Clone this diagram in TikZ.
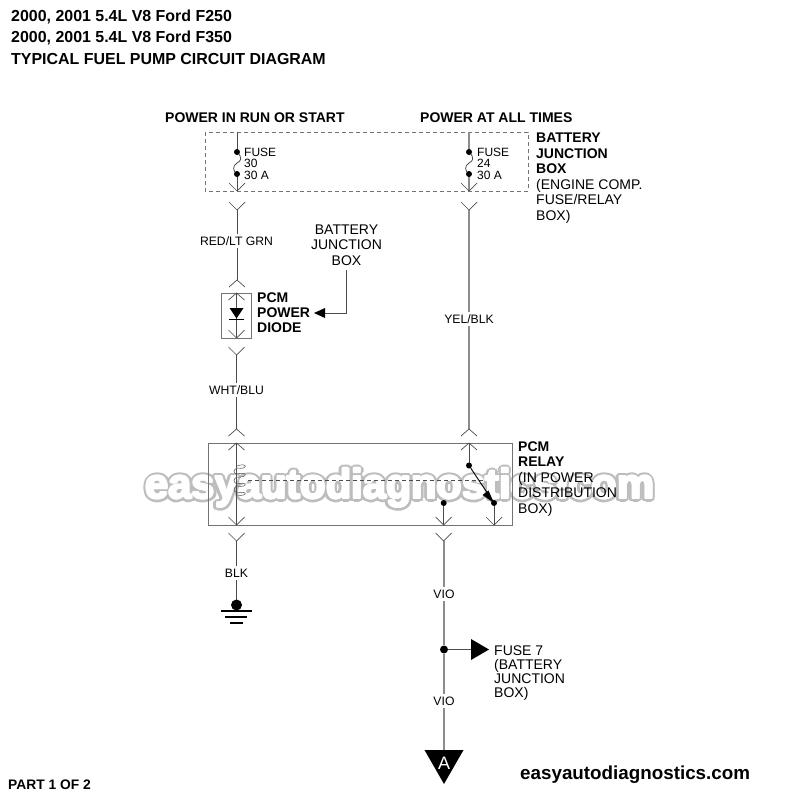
\documentclass[tikz,border=0pt]{standalone}
\usepackage{fontspec}
\setmainfont{Liberation Sans}
\usetikzlibrary{calc}
\tikzset{
  lbl/.style={inner sep=0pt,align=left,anchor=north west,font=\fontsize{14}{15.5}\selectfont},
  wlbl/.style={inner xsep=1pt,inner ysep=3pt,fill=white,font=\fontsize{12.2}{13}\selectfont},
  head/.style={inner sep=0pt,anchor=west,font=\fontsize{14}{15}\selectfont\bfseries},
  title/.style={inner sep=0pt,anchor=west,font=\fontsize{15.95}{17}\selectfont\bfseries},
  thin wire/.style={draw=black!70,line width=0.9pt},
  thick wire/.style={draw=black!45,line width=1.6pt},
  box/.style={draw=black!55,line width=0.9pt},
  dot/.style={circle,fill=black,inner sep=0pt,minimum size=6pt},
  tip/.style={draw=black!70,line width=0.7pt},
  wmark/.style={inner sep=0pt,font=\fontsize{41.6}{45}\selectfont\bfseries},
}
\newcommand{\downv}[2]{\draw[tip] (#1-8,#2-8) -- (#1,#2) -- (#1+8,#2-8);}
\newcommand{\upv}[2]{\draw[tip] (#1-8,#2+7) -- (#1,#2) -- (#1+8,#2+7);}
\begin{document}
\begin{tikzpicture}[x=1pt,y=-1pt]
\useasboundingbox (0,0) rectangle (800,800);
% watermark
\foreach \a in {0,22.5,...,337.5}
  \node[wmark,text=black!26] at ($(400,488)+(\a:3.6)$) {easyautodiagnostics.com};
\foreach \a in {0,45,...,315}
  \node[wmark,text=white] at ($(400,488)+(\a:1)$) {easyautodiagnostics.com};
\node[wmark,text=white] (wm) at (400,488) {easyautodiagnostics.com};
% titles
\node[title] (t1) at (11,17) {2000, 2001 5.4L V8 Ford F250};
\node[title] (t2) at (11,38) {2000, 2001 5.4L V8 Ford F350};
\node[title] (t3) at (11,59) {TYPICAL FUEL PUMP CIRCUIT DIAGRAM};
\node[head] (h1) at (165,117.5) {POWER IN RUN OR START};
\node[head] (h2) at (420,117.5) {POWER AT ALL TIMES};
% junction box
\draw[box,dash pattern=on 4pt off 3pt] (205,132) rectangle (528,191);
\node[lbl] (jb) at (536,133) {\textbf{BATTERY}\\\textbf{JUNCTION}\\\textbf{BOX}\\(ENGINE COMP.\\FUSE/RELAY\\BOX)};
% fuses
\coordinate (fa1) at (237,152); \coordinate (fa2) at (237,174);
\coordinate (fb1) at (469,152); \coordinate (fb2) at (469,174);
\draw[thin wire] (237,132) -- (fa1);
\draw[thin wire] (fa2) -- (237,191);
\draw[thick wire] (469,132) -- (fb1);
\draw[thick wire] (fb2) -- (469,191);
\draw[tip,line width=0.8pt] (fa1) .. controls (243,158) and (241,161) .. (237,163) .. controls (232,166) and (233,171) .. (fa2);
\draw[tip,line width=0.8pt] (fb1) .. controls (475,158) and (473,161) .. (469,163) .. controls (464,166) and (465,171) .. (fb2);
\foreach \p in {fa1,fa2,fb1,fb2} \node[dot] at (\p) {};
\downv{237}{191}\downv{469}{191}
\node[lbl,font=\fontsize{12}{11.5}\selectfont] (f30) at (244,147.5) {FUSE\\30\\30 A};
\node[lbl,font=\fontsize{12}{11.5}\selectfont] (f24) at (477,147.5) {FUSE\\24\\30 A};
% left wire to diode
\downv{237}{210}
\draw[thin wire] (237,210) -- (237,280);
\node[wlbl] (rl) at (236.5,241) {RED/LT GRN};
\upv{237}{280}
\node[box,minimum width=30pt,minimum height=45pt,inner sep=0pt] (diode) at (236.5,315.5) {};
\draw[thin wire] (236.5,293) -- (236.5,338);
\upv{236.5}{293}\downv{236.5}{338}
\fill (229.5,308) -- (243.5,308) -- (236.5,318.5) -- cycle;
\draw[line width=1pt] (229,319) -- (244,319);
\node[lbl,font=\fontsize{14}{15.2}\selectfont\bfseries] (pd) at (257,292.5) {PCM\\POWER\\DIODE};
% Battery junction box pointer
\node[inner sep=0pt,align=center,font=\fontsize{14}{15.5}\selectfont] (bjb) at (346.5,245) {BATTERY\\JUNCTION\\BOX};
\draw[thin wire] (346.5,270) -- (346.5,313) -- (325,313);
\fill (314,313) -- (325,308) -- (325,318) -- cycle;
% WHT/BLU
\downv{236.5}{355}
\draw[thin wire] (236.5,355) -- (236.5,429);
\node[wlbl] (wb) at (236.5,390) {WHT/BLU};
\upv{236.5}{429}
% YEL/BLK
\downv{469}{210}
\draw[thick wire] (469,210) -- (469,429);
\node[wlbl] (yb) at (469,319) {YEL/BLK};
\upv{469}{429}
% relay
\draw[box,line width=1pt] (208,443) rectangle (512,525);
\draw[thin wire] (236.5,443) -- (236.5,525);
\upv{236.5}{443}\downv{236.5}{525}
\draw[thin wire] (469,443) -- (469,466);
\upv{469}{443}
\node[dot] (c1) at (469,465.5) {};
\node[dot] (c2) at (494,503) {};
\node[dot] (c3) at (443.7,503) {};
\draw[thin wire] (c2) -- (494,525);
\draw[thin wire] (c3) -- (443.7,525);
\downv{494}{525}\downv{443.7}{525}
\draw[tip,line width=0.5pt] (237,466) .. controls (248,462) and (248,470) .. (237,468)
 .. controls (233,470) and (233,473) .. (237,474) .. controls (248,471) and (248,478) .. (237,477)
 .. controls (233,479) and (233,482) .. (237,484) .. controls (248,481) and (248,488) .. (237,486)
 .. controls (233,488) and (233,491) .. (237,493) .. controls (248,490) and (248,497) .. (237,495);
\draw[tip,dash pattern=on 4pt off 3pt,line width=0.6pt] (248,480) -- (483,480);
\draw[draw=black,line width=0.9pt] (c1) -- (c2);
\fill (494,503) -- (482.5,495) -- (488.5,490.5) -- cycle;
\node[lbl] (pr) at (518,441.5) {\textbf{PCM}\\\textbf{RELAY}\\(IN POWER\\DISTRIBUTION\\BOX)};
% lower left
\draw[tip] (228.5,533) -- (236.5,541) -- (244.5,533);
\draw[thin wire] (236.5,541) -- (236.5,605);
\node[wlbl] (blk) at (236.5,573) {BLK};
\node[circle,fill=black,inner sep=0pt,minimum size=11pt] (gd) at (236.5,605) {};
\draw[line width=1.2pt] (221,611) -- (252,611);
\draw[line width=1.2pt] (225,617) -- (247,617);
\draw[line width=1.6pt] (230,623) -- (243,623);
% lower right
\draw[tip] (435.7,533) -- (443.7,541) -- (451.7,533);
\node[circle,fill=black,inner sep=0pt,minimum size=8pt] (j) at (444,649.5) {};
\draw[thick wire] (444,541) -- (j) -- (444,751);
\node[wlbl] (v1) at (444,594) {VIO};
\node[wlbl] (v2) at (444,701) {VIO};
\draw[thin wire] (j) -- (472,649.5);
\fill (471,639) -- (489,649.5) -- (471,660) -- cycle;
\node[lbl,font=\fontsize{14}{14}\selectfont] (f7) at (494,645.5) {FUSE 7\\(BATTERY\\JUNCTION\\BOX)};
\fill (424.5,750) -- (463.5,750) -- (444,784) -- cycle;
\node[text=white,inner sep=0pt,font=\fontsize{18}{18}\selectfont] (a) at (444,763) {A};
% footer
\node[inner sep=0pt,anchor=west,font=\fontsize{13.8}{14}\selectfont\bfseries] (part) at (8,785) {PART 1 OF 2};
\node[inner sep=0pt,anchor=west,font=\fontsize{18.8}{22}\selectfont\bfseries] (site) at (520,775) {easyautodiagnostics.com};
\end{tikzpicture}
\end{document}
